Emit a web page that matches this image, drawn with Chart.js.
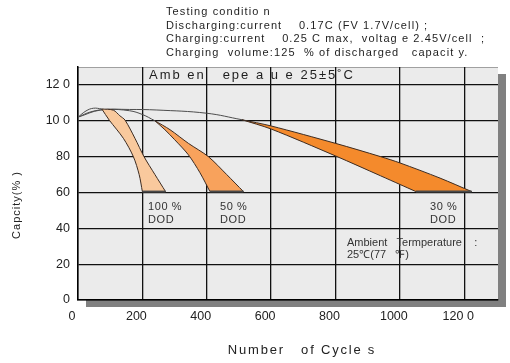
<!DOCTYPE html>
<html>
<head>
<meta charset="utf-8">
<script src="https://cdn.jsdelivr.net/npm/chart.js@4.4.0/dist/chart.umd.min.js"></script>
<style>
  html, body { margin: 0; padding: 0; background: #fff; }
  #wrap { width: 510px; height: 363px; position: relative; }
</style>
</head>
<body>
<div id="wrap"><canvas id="cycleChart"></canvas></div>
<script>
const FONT = '"Liberation Sans", Arial, sans-serif';

// ── axis ticks ──
const xTicks = [0, 200, 400, 600, 800, 1000, 1200];
const xTickLabels = ['0', '200', '400', '600', '800', '1000', '120 0'];
const yTicks = [0, 20, 40, 60, 80, 100, 120];
const yTickLabels = ['0', '20', '40', '60', '80', '10 0', '12 0'];

// ── DOD bands: outer (right) edge and inner (left) edge, [cycles, capacity %] ──
const dod100Outer = [[74, 106.6], [110, 105.9], [130, 102.8], [146, 100.4], [177, 90.2], [205, 80], [239, 70], [272, 60.5]];
const dod100Inner = [[74, 106.6], [97, 100.4], [141, 90.2], [172, 80], [190, 70], [200, 60.5]];
const dod50Outer = [[239, 100], [286, 95], [343, 87.4], [405, 80], [462, 70], [514, 60.5]];
const dod50Inner = [[239, 100], [270, 95], [300, 89.5], [343, 81], [379, 71], [410, 60.5]];
const dod30Outer = [[509, 100.6], [600, 97.1], [800, 87.4], [940, 80], [1000, 76.5], [1125, 68], [1223, 60.5]];
const dod30Inner = [[509, 100.6], [600, 95.4], [800, 80.4], [940, 69.3], [1000, 64.5], [1050, 60.5]];

// thin lead-in curves from the start point to each band
const guide100 = [[0, 102], [25, 105.5], [48, 107], [74, 106.6]];
const guide50 = [[0, 102], [40, 105], [90, 106.3], [160, 105.6], [200, 103.5], [239, 100]];
const guide30 = [[0, 102], [70, 106], [160, 106.3], [245, 106], [400, 104.2], [509, 100.6]];

const headerLines = [
    'Testing conditio n',
    'Discharging:current    0.17C (FV 1.7V/cell) ;',
    'Charging:current    0.25 C max,  voltag e 2.45V/cell  ;',
    'Charging  volume:125  % of discharged   capacit y.'
];

const toPts = arr => arr.map(([x, y]) => ({ x, y }));

// closed outline: down the outer edge, across the bottom, back up the inner edge
function bandShape(outer, inner) {
    const o = toPts(outer);
    const i = toPts(inner).reverse();
    // corners repeated so the spline keeps them sharp
    return [...o, o[o.length - 1], i[0], ...i];
}

function bandDataset(outer, inner, color) {
    return {
        data: bandShape(outer, inner),
        showLine: true,
        fill: 'shape',
        backgroundColor: color,
        borderColor: '#3d2c22',
        borderWidth: 1,
        tension: 0.3,
        pointRadius: 0,
    };
}

function bottomDataset(outer, inner) {
    return {
        data: [toPts(inner)[inner.length - 1], toPts(outer)[outer.length - 1]],
        showLine: true,
        fill: false,
        borderColor: '#4a4a4a',
        borderWidth: 2,
        pointRadius: 0,
    };
}

function guideDataset(pts) {
    return {
        data: toPts(pts),
        showLine: true,
        fill: false,
        borderColor: '#4d4d4d',
        borderWidth: 1,
        tension: 0.4,
        pointRadius: 0,
    };
}

// plot backdrop with drop shadow
const backdrop = {
    id: 'backdrop',
    beforeDraw(chart) {
        const { ctx, chartArea: a } = chart;
        ctx.save();
        ctx.fillStyle = '#808080';
        ctx.fillRect(a.left + 8, a.top + 7, a.right - a.left, a.bottom - a.top);
        ctx.fillStyle = '#ebebeb';
        ctx.fillRect(a.left, a.top, a.right - a.left, a.bottom - a.top);
        ctx.strokeStyle = '#a0a0a0';
        ctx.lineWidth = 1;
        ctx.beginPath();
        ctx.moveTo(a.left, a.top + 0.5);
        ctx.lineTo(a.right, a.top + 0.5);
        ctx.stroke();
        ctx.restore();
    }
};

function spaced(ctx, px) {
    if ('letterSpacing' in ctx) ctx.letterSpacing = px + 'px';
}

// header block, in-plot notes, axis titles
const notes = {
    id: 'notes',
    afterDraw(chart) {
        const { ctx } = chart;
        ctx.save();
        ctx.fillStyle = '#1e1e1e';
        ctx.textBaseline = 'alphabetic';
        ctx.textAlign = 'left';

        ctx.font = '11px ' + FONT;
        spaced(ctx, 1.1);
        headerLines.forEach((t, i) => {
            ctx.fillText(t, 166, 15 + i * 13.7);
        });

        ctx.font = '13px ' + FONT;
        spaced(ctx, 2);
        ctx.fillText('Amb en   epe a u e 25\u00b15\u02daC', 149, 79);

        ctx.fillStyle = '#333';
        ctx.font = '11px ' + FONT;
        spaced(ctx, 0.6);
        ctx.fillText('100 %', 148, 210);
        ctx.fillText('DOD', 148, 223);
        ctx.fillText('50 %', 220, 210);
        ctx.fillText('DOD', 220, 223);
        ctx.fillText('30 %', 430, 210);
        ctx.fillText('DOD', 430, 223);
        spaced(ctx, 0);
        ctx.fillText('Ambient   Termperature    :', 347, 246);
        ctx.fillText('25\u2103(77   \u2109)', 347, 258);

        ctx.fillStyle = '#222';
        ctx.font = '13px ' + FONT;
        spaced(ctx, 1.8);
        ctx.textAlign = 'center';
        ctx.textBaseline = 'middle';
        ctx.fillText('Number   of Cycle s', 302, 350);

        ctx.font = '11px ' + FONT;
        spaced(ctx, 1);
        ctx.translate(17, 205);
        ctx.rotate(-Math.PI / 2);
        ctx.fillText('Capcity(% )', 0, 0);
        ctx.restore();
    }
};

new Chart(document.getElementById('cycleChart'), {
    type: 'scatter',
    data: {
        datasets: [
            bottomDataset(dod100Outer, dod100Inner),
            bottomDataset(dod50Outer, dod50Inner),
            bottomDataset(dod30Outer, dod30Inner),
            bandDataset(dod100Outer, dod100Inner, '#f9c99d'),
            bandDataset(dod50Outer, dod50Inner, '#f8a25c'),
            bandDataset(dod30Outer, dod30Inner, '#f48a2c'),
            guideDataset(guide100),
            guideDataset(guide50),
            guideDataset(guide30),
        ]
    },
    options: {
        responsive: true,
        maintainAspectRatio: false,
        animation: false,
        events: [],
        layout: { padding: { top: 67, right: 12, left: 0, bottom: 0 } },
        plugins: {
            legend: { display: false },
            tooltip: { enabled: false },
        },
        scales: {
            x: {
                type: 'linear',
                min: 0, max: 1305,
                afterBuildTicks: s => { s.ticks = xTicks.map(v => ({ value: v })); },
                afterFit: s => { s.height = 63; },
                ticks: {
                    callback: (v, i) => xTickLabels[i],
                    color: '#222',
                    font: { family: FONT, size: 12.5 },
                    padding: 9,
                    labelOffset: -6,
                    maxRotation: 0,
                },
                grid: { color: '#111', lineWidth: 1.3, drawTicks: false },
                border: { color: '#000', width: 1.5 },
            },
            y: {
                min: 0, max: 130,
                afterBuildTicks: s => { s.ticks = yTicks.map(v => ({ value: v })); },
                afterFit: s => { s.width = 78; },
                ticks: {
                    callback: (v, i) => yTickLabels[i],
                    color: '#222',
                    font: { family: FONT, size: 12.5 },
                    padding: 8,
                },
                grid: { color: '#111', lineWidth: 1.3, drawTicks: false },
                border: { color: '#000', width: 1.5 },
            },
        },
    },
    plugins: [backdrop, notes],
});
</script>
</body>
</html>
